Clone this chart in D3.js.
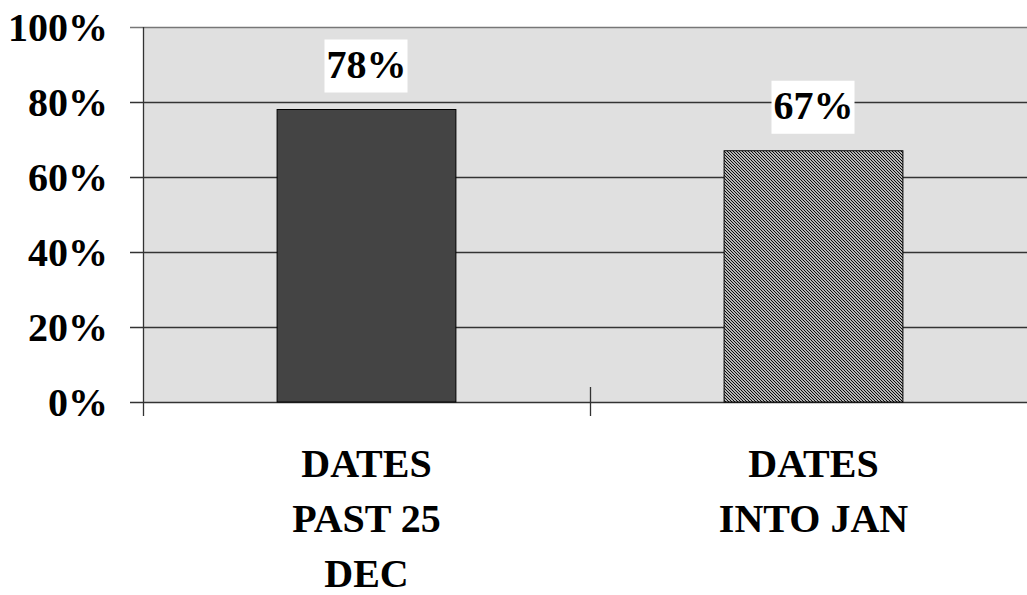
<!DOCTYPE html>
<html><head><meta charset="utf-8">
<script src="https://cdn.jsdelivr.net/npm/d3@7"></script>
<style>body{margin:0;background:#fff}svg{display:block}
text{font-family:"Liberation Serif","Times New Roman",Times,serif;font-weight:bold}</style>
</head><body>
<script>
const categories = [["DATES","PAST 25","DEC"],["DATES","INTO JAN"]];
const categoryKeys = ["DATES PAST 25 DEC","DATES INTO JAN"];
const values = [78, 67];
const valueLabels = ["78%","67%"];
const yTicks = [0,20,40,60,80,100];
const yTickLabels = ["0%","20%","40%","60%","80%","100%"];

(function(){
const W=1027,H=595;
const pL=143,pR=1037,pT=27,pB=402;
const svg=d3.select("body").append("svg").attr("width",W).attr("height",H);
const defs=svg.append("defs");
const pat=defs.append("pattern").attr("id","hatch").attr("patternUnits","userSpaceOnUse").attr("width",3).attr("height",3);
pat.append("rect").attr("width",3).attr("height",3).attr("fill","#fff");
pat.append("path").attr("d","M-1,2 l2,2 M0,0 l3,3 M2,-1 l2,2").attr("stroke","#000").attr("stroke-width",1.1);

const x=d3.scaleBand().domain(categoryKeys).range([pL,pR]).padding(0);
const y=d3.scaleLinear().domain([0,100]).range([pB,pT]);

svg.append("rect").attr("x",pL).attr("y",pT).attr("width",pR-pL).attr("height",pB-pT).attr("fill","#e0e0e0");

// gridlines
svg.append("g").selectAll("line").data(yTicks).join("line")
  .attr("x1",pL-13).attr("x2",W).attr("y1",d=>y(d)+0.5).attr("y2",d=>y(d)+0.5)
  .attr("stroke",d=>d===100?"#777":"#333").attr("stroke-width",1.3);

// bars
svg.append("g").selectAll("rect").data(values).join("rect")
  .attr("x",(d,i)=>x(categoryKeys[i])+x.bandwidth()*0.3)
  .attr("width",x.bandwidth()*0.4)
  .attr("y",d=>y(d)).attr("height",d=>pB-y(d))
  .attr("fill",(d,i)=>i===0?"#444":"url(#hatch)")
  .attr("stroke","#000").attr("stroke-width",1);

// y axis line
svg.append("line").attr("x1",pL+0.5).attr("x2",pL+0.5).attr("y1",pT).attr("y2",pB+14).attr("stroke","#333").attr("stroke-width",1.3);
// category separator ticks
svg.append("g").selectAll("line").data(categoryKeys.slice(1)).join("line")
  .attr("x1",d=>x(d)+0.5).attr("x2",d=>x(d)+0.5).attr("y1",pB-15).attr("y2",pB+14)
  .attr("stroke","#333").attr("stroke-width",1.3);

// y labels
svg.append("g").selectAll("text").data(yTicks).join("text")
  .attr("x",108).attr("y",d=>y(d)).attr("dy","0.35em").attr("text-anchor","end")
  .attr("font-size",40)
  .text((d,i)=>yTickLabels[i]);

// value labels with white box
const vl=svg.append("g").selectAll("g").data(values).join("g")
  .attr("transform",(d,i)=>`translate(${x(categoryKeys[i])+x.bandwidth()/2},${y(d)-17})`);
vl.append("rect").attr("x",-42).attr("y",-53).attr("width",83).attr("height",53).attr("fill","#fff");
vl.append("text").attr("y",-15).attr("text-anchor","middle")
  .attr("font-size",40)
  .text((d,i)=>valueLabels[i]);

// category labels
const cl=svg.append("g").selectAll("text").data(categories).join("text")
  .attr("text-anchor","middle").attr("font-size",40)
  .attr("transform",(d,i)=>`translate(${x(categoryKeys[i])+x.bandwidth()/2},0)`);
cl.selectAll("tspan").data(d=>d).join("tspan").attr("x",0).attr("y",(d,i)=>477+i*55).text(d=>d);
})();
</script>
</body></html>
